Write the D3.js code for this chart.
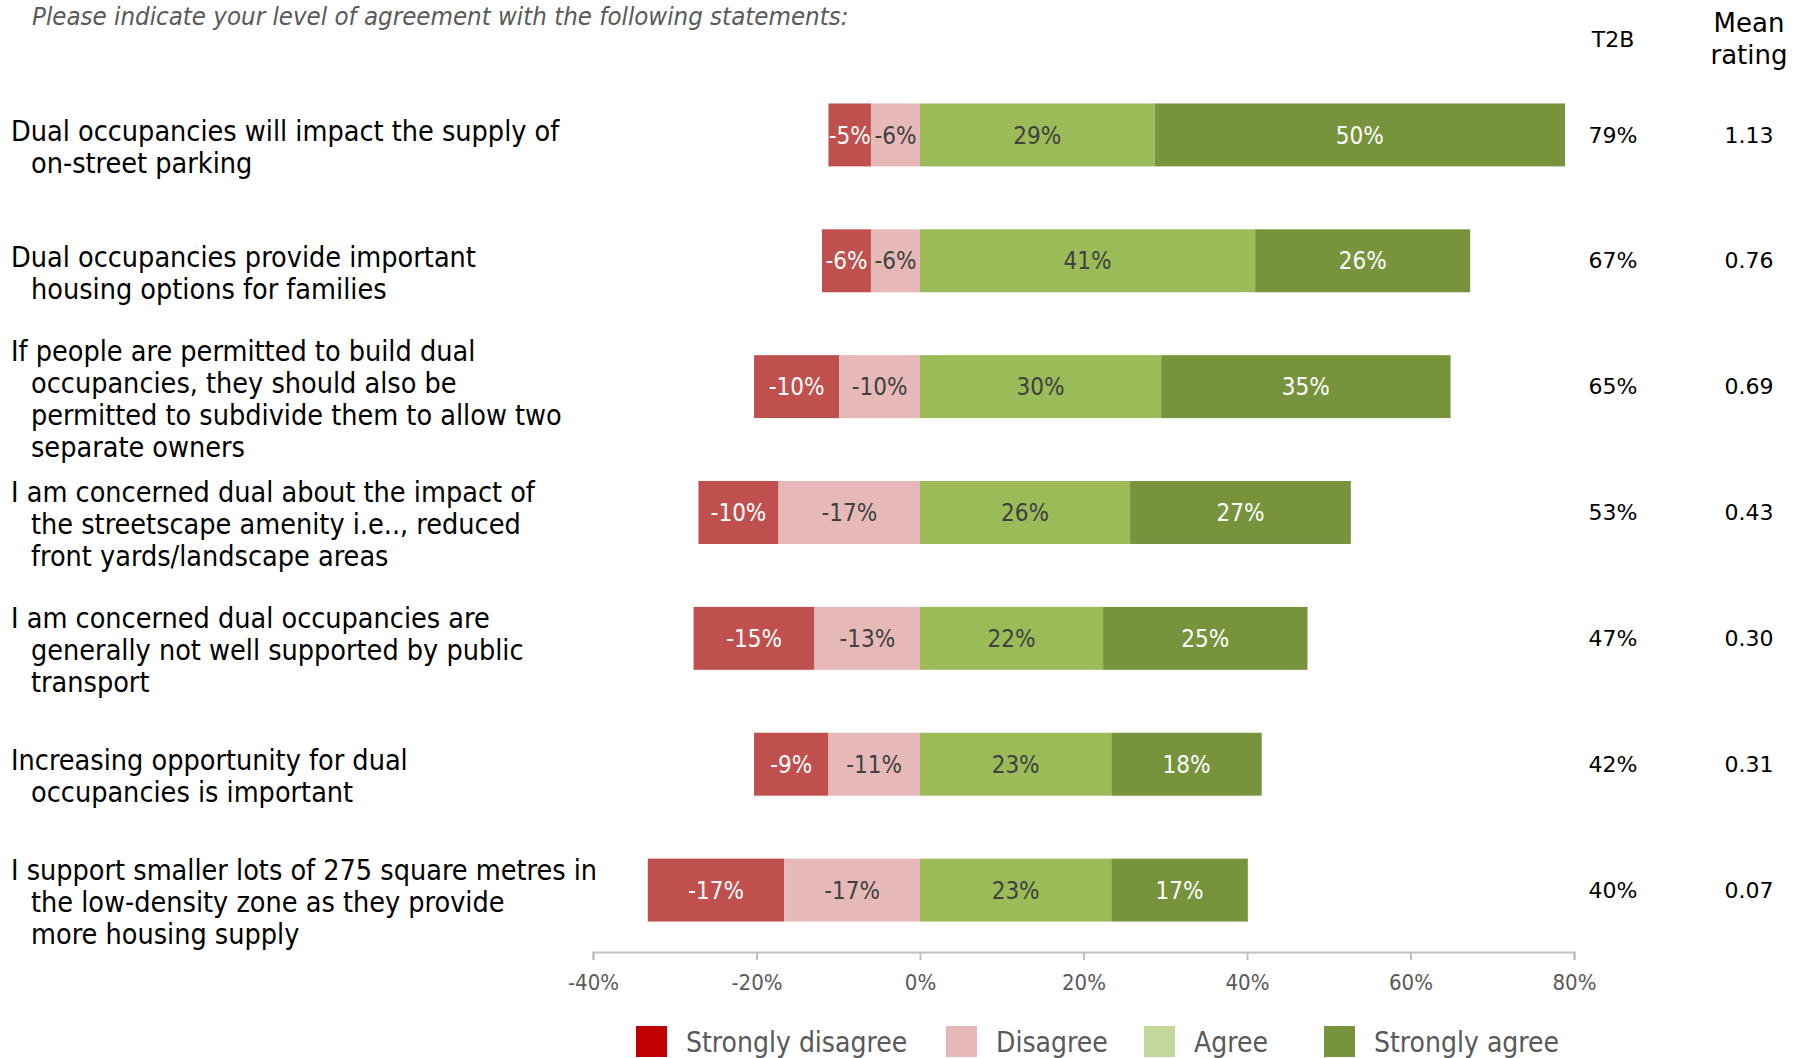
<!DOCTYPE html>
<html><head><meta charset="utf-8">
<script src="https://cdn.jsdelivr.net/npm/d3@7"></script>
<style>
body{margin:0;background:#fff;}
svg{display:block;}
</style></head>
<body>
<svg id="chart" width="1798" height="1058"></svg>
<script>
const categories = [
  ["Dual occupancies will impact the supply of", "on-street parking"],
  ["Dual occupancies provide important", "housing options for families"],
  ["If people are permitted to build dual", "occupancies, they should also be", "permitted to subdivide them to allow two", "separate owners"],
  ["I am concerned dual about the impact of", "the streetscape amenity i.e.., reduced", "front yards/landscape areas"],
  ["I am concerned dual occupancies are", "generally not well supported by public", "transport"],
  ["Increasing opportunity for dual", "occupancies is important"],
  ["I support smaller lots of 275 square metres in", "the low-density zone as they provide", "more housing supply"]
];
const stronglyDisagree = [5.2, 6.0, 10.4, 9.8, 14.8, 9.1, 16.7];
const disagree = [6.0, 6.0, 9.9, 17.3, 12.9, 11.2, 16.6];
const agree = [28.7, 41.0, 29.5, 25.7, 22.4, 23.4, 23.4];
const stronglyAgree = [50.2, 26.3, 35.4, 27.0, 25.0, 18.4, 16.7];
const t2b = ["79%", "67%", "65%", "53%", "47%", "42%", "40%"];
const meanRating = ["1.13", "0.76", "0.69", "0.43", "0.30", "0.31", "0.07"];
const tickValues = [-40, -20, 0, 20, 40, 60, 80];
const seriesNames = ["Strongly disagree", "Disagree", "Agree", "Strongly agree"];

const barColors = ["#C0504D", "#E6B9B8", "#9BBB59", "#77933C"];
const legendColors = ["#C00000", "#E6B9B8", "#C4D79B", "#77933C"];
const labelColors = ["#FFFFFF", "#404040", "#404040", "#FFFFFF"];

const narrow = "'Liberation Sans Narrow', 'DejaVu Sans Condensed', 'Arial Narrow', sans-serif";
const plain = "'DejaVu Sans', 'Liberation Sans', sans-serif";

const svg = d3.select("#chart");
const x = d3.scaleLinear().domain([-40, 80]).range([593, 1574]);
const y = d3.scaleBand().domain(d3.range(categories.length)).range([72, 953]).paddingInner(0.5).paddingOuter(0.25);

const rows = categories.map((c, i) => {
  const sd = stronglyDisagree[i], d = disagree[i], a = agree[i], sa = stronglyAgree[i];
  return [
    {k: 0, x0: -(sd + d), x1: -d, v: -sd},
    {k: 1, x0: -d, x1: 0, v: -d},
    {k: 2, x0: 0, x1: a, v: a},
    {k: 3, x0: a, x1: a + sa, v: sa}
  ].map(s => Object.assign(s, {row: i}));
});
const segs = rows.flat();

svg.append("g").selectAll("rect").data(segs).join("rect")
  .attr("x", s => x(s.x0))
  .attr("width", s => x(s.x1) - x(s.x0))
  .attr("y", s => y(s.row))
  .attr("height", y.bandwidth())
  .attr("fill", s => barColors[s.k]);

svg.append("g").selectAll("text").data(segs).join("text")
  .attr("x", s => (x(s.x0) + x(s.x1)) / 2)
  .attr("y", s => y(s.row) + y.bandwidth() / 2)
  .attr("dy", "0.36em")
  .attr("text-anchor", "middle")
  .attr("font-family", narrow)
  .attr("font-size", 24)
  .attr("fill", s => labelColors[s.k])
  .text(s => Math.round(s.v) + "%");

const axis = d3.axisBottom(x).tickValues(tickValues).tickSize(8).tickSizeOuter(8).tickFormat(d => d + "%").tickPadding(14);
const gAx = svg.append("g").attr("transform", "translate(0,952)").call(axis);
gAx.select(".domain").attr("stroke", "#BFBFBF").attr("stroke-width", 2);
gAx.selectAll(".tick line").attr("stroke", "#BFBFBF").attr("stroke-width", 2);
gAx.selectAll(".tick text").attr("font-family", narrow).attr("font-size", 22).attr("fill", "#595959");

const gl = svg.append("g");
categories.forEach((lines, i) => {
  const lh = 32;
  const cy = y(i) + y.bandwidth() / 2 + 12;
  const top = cy - (lines.length - 1) * lh / 2;
  const t = gl.append("text").attr("font-family", narrow).attr("font-size", 28.5).attr("fill", "#000");
  lines.forEach((ln, j) => {
    t.append("tspan").attr("x", j === 0 ? 11 : 31).attr("y", top + j * lh).attr("dy", "0.35em").text(ln);
  });
});

svg.append("g").selectAll("text").data(t2b).join("text")
  .attr("x", 1613).attr("y", (d, i) => y(i) + y.bandwidth() / 2).attr("dy", "0.35em")
  .attr("text-anchor", "middle").attr("font-family", plain).attr("font-size", 22).attr("fill", "#000")
  .text(d => d);
svg.append("g").selectAll("text").data(meanRating).join("text")
  .attr("x", 1749).attr("y", (d, i) => y(i) + y.bandwidth() / 2).attr("dy", "0.35em")
  .attr("text-anchor", "middle").attr("font-family", plain).attr("font-size", 22).attr("fill", "#000")
  .text(d => d);
svg.append("text").attr("x", 1613).attr("y", 39).attr("dy", "0.35em").attr("text-anchor", "middle")
  .attr("font-family", plain).attr("font-size", 22).text("T2B");
svg.append("text").attr("x", 1749).attr("y", 23).attr("dy", "0.35em").attr("text-anchor", "middle")
  .attr("font-family", plain).attr("font-size", 26).text("Mean");
svg.append("text").attr("x", 1749).attr("y", 55).attr("dy", "0.35em").attr("text-anchor", "middle")
  .attr("font-family", plain).attr("font-size", 26).text("rating");

svg.append("text").attr("x", 32).attr("y", 16).attr("dy", "0.35em")
  .attr("font-family", narrow).attr("font-style", "italic").attr("font-size", 25.6).attr("fill", "#595959")
  .text("Please indicate your level of agreement with the following statements:");

const legendX = [636, 946, 1144, 1324];
const lg = svg.append("g").selectAll("g").data(seriesNames).join("g")
  .attr("transform", (d, i) => `translate(${legendX[i]},1026)`);
lg.append("rect").attr("width", 31).attr("height", 31).attr("fill", (d, i) => legendColors[i]);
lg.append("text").attr("x", 50).attr("y", 16).attr("dy", "0.36em")
  .attr("font-family", narrow).attr("font-size", 28).attr("fill", "#595959").text(d => d);
</script>
</body></html>
